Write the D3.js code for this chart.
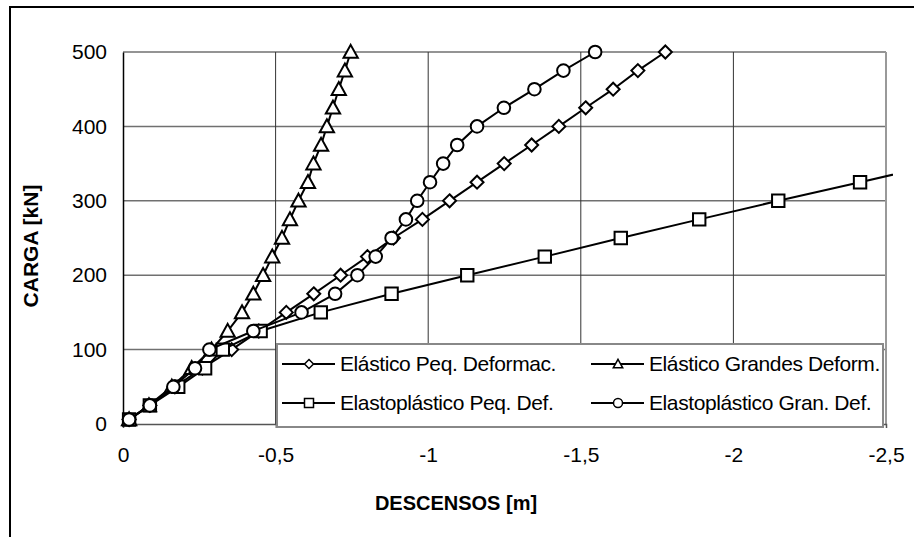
<!DOCTYPE html>
<html>
<head>
<meta charset="utf-8">
<script src="https://cdn.jsdelivr.net/npm/d3@7/dist/d3.min.js"></script>
<style>
  body { margin: 0; background: #fff; }
  text { font-family: Arial, "Liberation Sans", sans-serif; fill: #000; }
</style>
</head>
<body>
<div id="chart"></div>
<script>
// load steps (kN)
var loads = [6, 25, 50, 75, 100, 125, 150, 175, 200, 225, 250, 275, 300, 325, 350, 375, 400, 425, 450, 475, 500];
var loadsEP = [6, 25, 50, 75, 100, 125, 150, 175, 200, 225, 250, 275, 300, 325, 350];

// settlements (m)
var elasPeq = [-0.02, -0.088, -0.17, -0.26, -0.356, -0.445, -0.535, -0.625, -0.713, -0.801, -0.886, -0.981, -1.070, -1.160, -1.249, -1.339, -1.428, -1.516, -1.606, -1.687, -1.777];
var elasGran = [-0.02, -0.085, -0.16, -0.225, -0.29, -0.343, -0.390, -0.427, -0.459, -0.489, -0.521, -0.547, -0.575, -0.606, -0.624, -0.649, -0.668, -0.688, -0.707, -0.727, -0.746];
var plastPeq = [-0.02, -0.088, -0.181, -0.269, -0.327, -0.451, -0.648, -0.880, -1.128, -1.382, -1.631, -1.888, -2.147, -2.415, -2.68];
var plastGran = [-0.02, -0.088, -0.165, -0.236, -0.283, -0.427, -0.585, -0.695, -0.768, -0.828, -0.880, -0.927, -0.964, -1.006, -1.049, -1.095, -1.160, -1.248, -1.348, -1.443, -1.547];

var xTicks = [0, -0.5, -1, -1.5, -2, -2.5];
var yTicks = [0, 100, 200, 300, 400, 500];

var seriesNames = ["Elástico Peq. Deformac.", "Elástico Grandes Deform.", "Elastoplástico Peq. Def.", "Elastoplástico Gran. Def."];
var seriesMarks = ["diamond", "triangle", "square", "circle"];

var W = 914, H = 537;
var margin = {left: 123, top: 52, right: 28, bottom: 113};
var w = W - margin.left - margin.right;
var h = H - margin.top - margin.bottom;

var svg = d3.select("#chart").append("svg")
  .attr("width", W)
  .attr("height", H);

// outer frame (only top and left visible)
svg.append("path")
  .attr("d", "M10," + H + "V7H" + W)
  .attr("fill", "none")
  .attr("stroke", "#000")
  .attr("stroke-width", 2);

var x = d3.scaleLinear().domain([0, -2.5]).range([0, w]);
var y = d3.scaleLinear().domain([0, 500]).range([h, 0]);

var g = svg.append("g")
  .attr("transform", "translate(" + margin.left + "," + margin.top + ")");

// gridlines
g.selectAll(".hgrid").data(yTicks.slice(1)).enter().append("line")
  .attr("x1", 0).attr("x2", w)
  .attr("y1", function(d) { return y(d); })
  .attr("y2", function(d) { return y(d); })
  .attr("stroke", "#707070").attr("stroke-width", 1.5);

g.selectAll(".vgrid").data(xTicks.slice(1, -1)).enter().append("line")
  .attr("x1", function(d) { return x(d); })
  .attr("x2", function(d) { return x(d); })
  .attr("y1", 0).attr("y2", h)
  .attr("stroke", "#333").attr("stroke-width", 1);

// plot frame right side
g.append("line")
  .attr("x1", w).attr("x2", w).attr("y1", 0).attr("y2", h)
  .attr("stroke", "#999").attr("stroke-width", 2);

// axes
var fmt = function(d) { return String(d).replace(".", ","); };

var xAxis = g.append("g")
  .attr("transform", "translate(0," + h + ")")
  .call(d3.axisBottom(x).tickValues(xTicks).tickFormat(fmt).tickSize(4).tickPadding(19));
xAxis.select(".domain").attr("stroke", "#555").attr("stroke-width", 1.5);
xAxis.selectAll(".tick line").attr("stroke", "#555");
xAxis.selectAll("text").attr("font-size", 21).attr("font-family", "Arial, 'Liberation Sans'").attr("fill", "#000");

var yAxis = g.append("g")
  .call(d3.axisLeft(y).tickValues(yTicks).tickSize(0).tickPadding(16));
yAxis.select(".domain").attr("stroke", "#000").attr("stroke-width", 1.5);
yAxis.selectAll("text").attr("font-size", 21).attr("font-family", "Arial, 'Liberation Sans'").attr("fill", "#000");

// axis titles
svg.append("text")
  .attr("x", 456).attr("y", 510)
  .attr("text-anchor", "middle")
  .attr("font-size", 20).attr("font-weight", "bold")
  .text("DESCENSOS [m]");

svg.append("text")
  .attr("transform", "translate(38,246) rotate(-90)")
  .attr("text-anchor", "middle")
  .attr("font-size", 21).attr("font-weight", "bold")
  .text("CARGA [kN]");

// series
svg.append("clipPath").attr("id", "clip")
  .append("rect").attr("x", -margin.left).attr("y", -margin.top)
  .attr("width", 893).attr("height", H);

var series = [
  {name: seriesNames[0], mark: seriesMarks[0], xs: elasPeq, ys: loads},
  {name: seriesNames[1], mark: seriesMarks[1], xs: elasGran, ys: loads},
  {name: seriesNames[2], mark: seriesMarks[2], xs: plastPeq, ys: loadsEP},
  {name: seriesNames[3], mark: seriesMarks[3], xs: plastGran, ys: loads}
];

function markerPath(type, s) {
  if (type === "diamond") return "M0," + (-s) + "L" + s + ",0L0," + s + "L" + (-s) + ",0Z";
  if (type === "triangle") return "M0," + (-s * 1.05) + "L" + (s * 1.05) + "," + (s * 0.85) + "L" + (-s * 1.05) + "," + (s * 0.85) + "Z";
  if (type === "square") return "M" + (-s) + "," + (-s) + "H" + s + "V" + s + "H" + (-s) + "Z";
  return "M" + s + ",0A" + s + "," + s + " 0 1,1 " + (-s) + ",0A" + s + "," + s + " 0 1,1 " + s + ",0Z";
}
var markSize = {diamond: 6.5, triangle: 6.8, square: 6.2, circle: 6.3};

var line = d3.line()
  .x(function(d) { return x(d[0]); })
  .y(function(d) { return y(d[1]); });

var plot = g.append("g").attr("clip-path", "url(#clip)");

series.forEach(function(s) {
  var pts = s.xs.map(function(v, i) { return [v, s.ys[i]]; });
  plot.append("path")
    .datum(pts)
    .attr("d", line)
    .attr("fill", "none")
    .attr("stroke", "#000")
    .attr("stroke-width", 2);
  plot.selectAll(null).data(pts.filter(function(d) { return x(d[0]) <= w; })).enter().append("path")
    .attr("transform", function(d) { return "translate(" + x(d[0]) + "," + y(d[1]) + ")"; })
    .attr("d", markerPath(s.mark, markSize[s.mark]))
    .attr("fill", "#fff")
    .attr("stroke", "#000")
    .attr("stroke-width", 2);
});

// legend
var leg = svg.append("g").attr("transform", "translate(277,344)");
leg.append("rect")
  .attr("width", 606).attr("height", 83)
  .attr("fill", "#fff")
  .attr("stroke", "#888").attr("stroke-width", 2);

var legPos = [[0, 0], [309, 0], [0, 39], [309, 39]];
series.forEach(function(s, i) {
  var lg = leg.append("g").attr("transform", "translate(" + legPos[i][0] + "," + legPos[i][1] + ")");
  lg.append("line")
    .attr("x1", 5).attr("x2", 58).attr("y1", 20).attr("y2", 20)
    .attr("stroke", "#000").attr("stroke-width", 2);
  lg.append("path")
    .attr("transform", "translate(32,20)")
    .attr("d", markerPath(s.mark, 4.5))
    .attr("fill", "#fff").attr("stroke", "#000").attr("stroke-width", 1.5);
  lg.append("text")
    .attr("x", 63).attr("y", 27)
    .attr("font-size", 21)
    .attr("letter-spacing", -0.4)
    .text(s.name);
});
</script>
</body>
</html>
